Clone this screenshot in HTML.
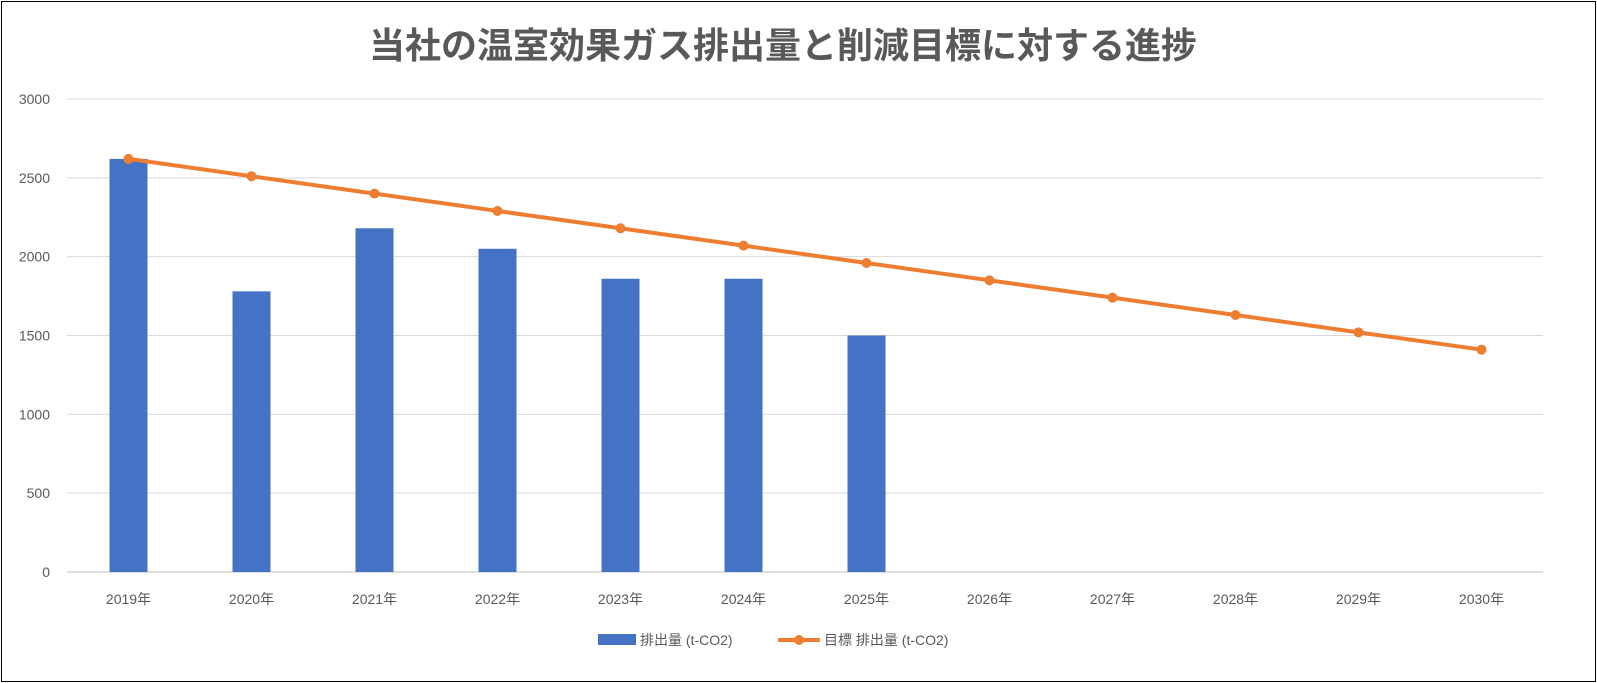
<!DOCTYPE html>
<html><head><meta charset="utf-8">
<style>
html,body{margin:0;padding:0;background:#fff;}
body{width:1597px;height:683px;overflow:hidden;font-family:"Liberation Sans","Noto Sans CJK JP",sans-serif;}
#frame{position:absolute;left:1px;top:1px;width:1593px;height:679px;border:1px solid #000;box-sizing:content-box;}
</style></head><body>
<div id="frame"></div>
<svg id="chart" width="1597" height="683" style="position:absolute;left:0;top:0"></svg>
<script>
const categories=["2019年","2020年","2021年","2022年","2023年","2024年","2025年","2026年","2027年","2028年","2029年","2030年"];
const emissions=[2620,1780,2180,2050,1860,1860,1500];
const targets=[2620,2510,2400,2290,2180,2070,1960,1850,1740,1630,1520,1410];
const yTicks=[0,500,1000,1500,2000,2500,3000];
const NS="http://www.w3.org/2000/svg";
const svg=document.getElementById('chart');
const plotL=67,plotR=1543,y0=572,y3000=99;
const step=(plotR-plotL)/categories.length;
function xPos(i){return plotL+step*(i+0.5);}
function yPos(v){return y0-(v/3000)*(y0-y3000);}
function mk(tag,attrs,text){const e=document.createElementNS(NS,tag);for(const k in attrs)e.setAttribute(k,attrs[k]);if(text!==undefined)e.textContent=text;svg.appendChild(e);return e;}
let t=mk('text',{x:783,y:58,'text-anchor':'middle','font-size':'36','font-weight':'bold',fill:'#595959'},'当社の温室効果ガス排出量と削減目標に対する進捗');


yTicks.forEach(v=>{
 const y=yPos(v);
 const g=mk('line',{x1:plotL,x2:plotR,y1:y,y2:y,stroke:v===0?'#bfbfbf':'#d9d9d9','stroke-width':1});
 
 
 const l=mk('text',{x:50,y:y+5,'text-anchor':'end','font-size':'14',fill:'#595959'},String(v));
 
 
});
categories.forEach((c,i)=>{
 const l=mk('text',{x:xPos(i),y:604,'text-anchor':'middle','font-size':'14',fill:'#595959'},c);
 
 
});
const bw=38;
emissions.forEach((v,i)=>{
 const b=mk('rect',{x:xPos(i)-bw/2,y:yPos(v),width:bw,height:y0-yPos(v),fill:'#4472c4'});
 
 
});
const pts=targets.map((v,i)=>xPos(i)+','+yPos(v)).join(' ');
const pl=mk('polyline',{points:pts,fill:'none',stroke:'#ed7d31','stroke-width':4,'stroke-linejoin':'round'});


targets.forEach((v,i)=>{
 const c=mk('circle',{cx:xPos(i),cy:yPos(v),r:5,fill:'#ed7d31'});
 
 
});
let r=mk('rect',{x:598,y:634,width:38,height:11,fill:'#4472c4'});


let lt=mk('text',{x:640,y:645,'font-size':'14',fill:'#595959'},'排出量 (t-CO2)');


let ll=mk('line',{x1:778,x2:820,y1:640,y2:640,stroke:'#ed7d31','stroke-width':4});


let lc=mk('circle',{cx:799,cy:640,r:5,fill:'#ed7d31'});


let lt2=mk('text',{x:824,y:645,'font-size':'14',fill:'#595959'},'目標 排出量 (t-CO2)');


</script>
</body></html>
